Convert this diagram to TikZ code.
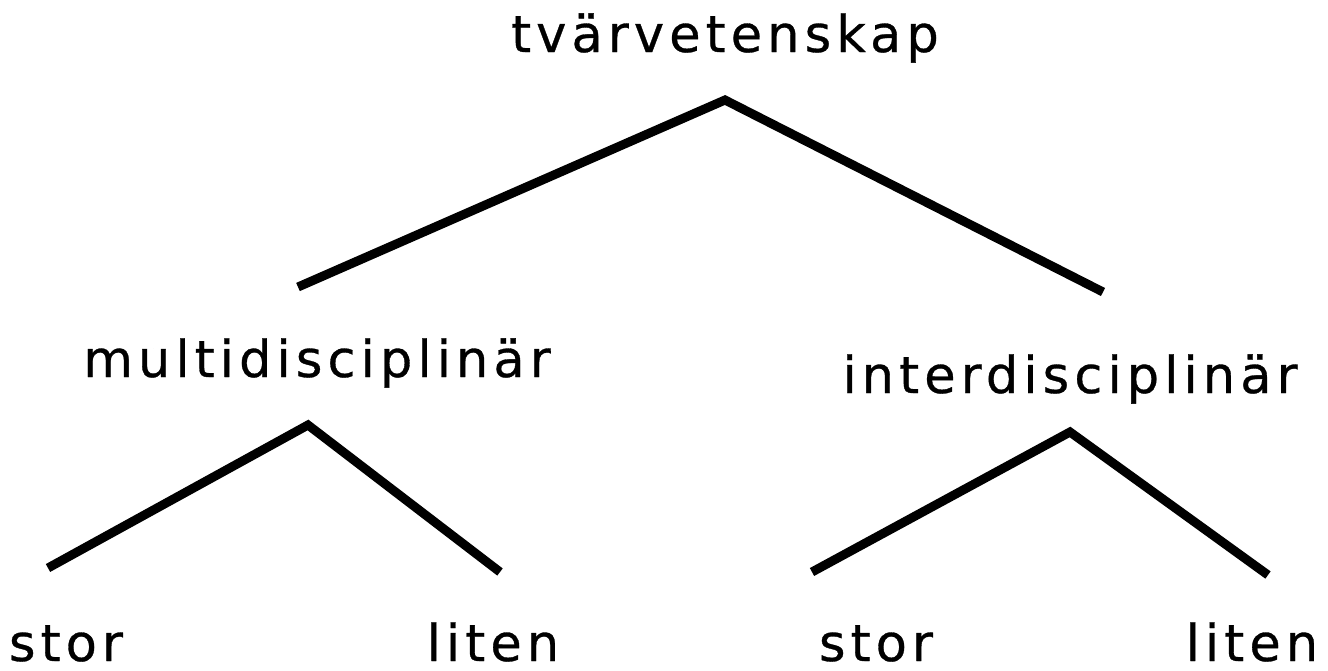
\documentclass[tikz,border=0pt]{standalone}
\usepackage{fontspec}
\setmainfont{DejaVu Sans}[LetterSpace=10,FakeBold=0.6]
\usetikzlibrary{calc}

\begin{document}
\begin{tikzpicture}[x=1pt,y=-1pt,
	ord/.style={anchor=base,inner sep=0pt,font=\fontsize{51}{51}\selectfont},
	gren/.style={line width=9pt}]
					\useasboundingbox (0,0) rectangle (1328,670);
					%TEXTS
					\node[ord] (tvar) at (725,52) {tvärvetenskap};
					\node[ord] (multi) at (317,377) {multidisciplinär};
					\node[ord] (inter) at (1070,393) {interdisciplinär};
					\node[ord] (mstor) at (66,661) {stor};
					\node[ord] (mliten) at (493,661) {liten};
					\node[ord] (istor) at (876,661) {stor};
					\node[ord] (iliten) at (1252,661) {liten};
					%BRANCHES
					\coordinate (T) at (725,100);
					\coordinate (TL) at (298,287);
					\coordinate (TR) at (1103,292);
					\coordinate (M) at (308,425);
					\coordinate (ML) at (48,568);
					\coordinate (MR) at (500,572);
					\coordinate (I) at (1070,432);
					\coordinate (IL) at (812,572);
					\coordinate (IR) at (1268,575);
					\draw[gren] (TL) -- (T) -- (TR);
					\draw[gren] (ML) -- (M) -- (MR);
					\draw[gren] (IL) -- (I) -- (IR);
\end{tikzpicture}
\end{document}
